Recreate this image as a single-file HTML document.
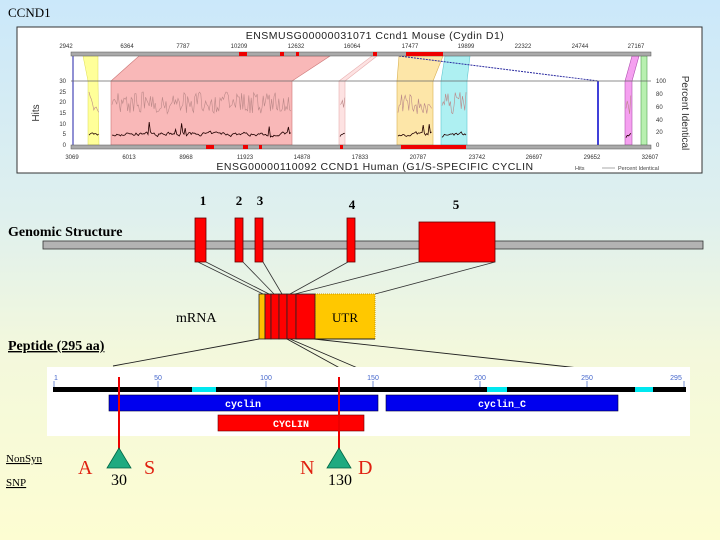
<!DOCTYPE html>
<html><head><meta charset="utf-8"><style>
html,body{margin:0;padding:0}
body{width:720px;height:540px;overflow:hidden;background:linear-gradient(#cbe8fa 0%,#dff0ee 40%,#f3f8dc 65%,#fdfdd2 100%)}
svg{display:block}
.s{font-family:"Liberation Serif",serif}
.a{font-family:"Liberation Sans",sans-serif}
.m{font-family:"Liberation Mono",monospace;font-weight:bold}
</style></head><body>
<svg width="720" height="540" viewBox="0 0 720 540" xmlns="http://www.w3.org/2000/svg">
<text x="8" y="17" class="s" font-size="13">CCND1</text>
<rect x="17" y="27" width="685" height="146" fill="#fff" stroke="#333" stroke-width="1"/>
<text x="375" y="39" class="a" font-size="10.5" text-anchor="middle" fill="#222" letter-spacing="0.5">ENSMUSG00000031071 Ccnd1 Mouse (Cydin D1)</text>
<g class="a" font-size="6" fill="#333" text-anchor="middle">
<text x="66" y="48">2942</text><text x="127" y="48">6364</text><text x="183" y="48">7787</text><text x="239" y="48">10209</text><text x="296" y="48">12632</text><text x="352" y="48">16064</text><text x="410" y="48">17477</text><text x="466" y="48">19899</text><text x="523" y="48">22322</text><text x="580" y="48">24744</text><text x="636" y="48">27167</text>
<text x="72" y="159">3069</text><text x="129" y="159">6013</text><text x="186" y="159">8968</text><text x="245" y="159">11923</text><text x="302" y="159">14878</text><text x="360" y="159">17833</text><text x="418" y="159">20787</text><text x="477" y="159">23742</text><text x="534" y="159">26697</text><text x="592" y="159">29652</text><text x="650" y="159">32607</text>
</g>
<text x="375" y="170" class="a" font-size="10.5" text-anchor="middle" fill="#222" letter-spacing="0.5">ENSG00000110092 CCND1 Human (G1/S-SPECIFIC CYCLIN</text>
<text x="575" y="170" class="a" font-size="5.5" fill="#444">Hits</text>
<line x1="602" y1="168" x2="615" y2="168" stroke="#aaa"/>
<text x="618" y="170" class="a" font-size="5.5" fill="#444">Percent Identical</text>
<polygon points="83,56 98,56 98,81 99,145 88,145 88,81" fill="#ffff99" stroke="#dddd55" stroke-width="0.5"/>
<polygon points="139,56 330,56 292,81 292,145 111,145 111,81" fill="#f9b8b8" stroke="#cc7777" stroke-width="0.6"/>
<polygon points="372,56 377,56 345,81 345,145 339,145 339,81" fill="#fde2e2" stroke="#e8b0b0" stroke-width="0.6"/>
<polygon points="399,56 443,56 433,81 433,145 397,145 397,81" fill="#fde6a8" stroke="#d8b050" stroke-width="0.6"/>
<polygon points="445,56 470,56 467,81 467,145 441,145 441,81" fill="#aef0f2" stroke="#60c8d0" stroke-width="0.6"/>
<polygon points="632,56 639,56 632,81 632,145 625,145 625,81" fill="#f5a0f0" stroke="#b050b0" stroke-width="0.6"/>
<polygon points="641,56 647,56 647,145 641,145" fill="#b8f0b0" stroke="#50a050" stroke-width="0.6"/>
<line x1="73" y1="56" x2="73" y2="145" stroke="#2222aa" stroke-width="1"/>
<polyline points="399,56 598,81 598,145" fill="none" stroke="#2a2aa0" stroke-width="1" stroke-dasharray="2,1"/>
<line x1="598" y1="81" x2="598" y2="145" stroke="#0000cc" stroke-width="1.5"/>
<line x1="71" y1="81" x2="651" y2="81" stroke="#666" stroke-width="0.8"/>
<path id="pid" fill="none" stroke="#b88" stroke-width="0.6"/>
<path id="hits" fill="none" stroke="#200" stroke-width="0.8"/>
<rect x="71" y="52" width="580" height="4" fill="#aaa" stroke="#555" stroke-width="0.5"/>
<rect x="71" y="145" width="580" height="4" fill="#aaa" stroke="#555" stroke-width="0.5"/>
<g fill="#e00">
<rect x="239" y="52" width="8" height="4"/><rect x="280" y="52" width="4" height="4"/><rect x="296" y="52" width="3" height="4"/><rect x="373" y="52" width="4" height="4"/><rect x="406" y="52" width="37" height="4"/>
<rect x="206" y="145" width="8" height="4"/><rect x="243" y="145" width="5" height="4"/><rect x="259" y="145" width="3" height="4"/><rect x="340" y="145" width="3" height="4"/><rect x="401" y="145" width="65" height="4"/>
</g>
<g class="a" font-size="6" fill="#333" text-anchor="end">
<text x="66" y="83">30</text><text x="66" y="94">25</text><text x="66" y="104">20</text><text x="66" y="115">15</text><text x="66" y="126">10</text><text x="66" y="136">5</text><text x="66" y="147">0</text>
</g>
<g class="a" font-size="6" fill="#333">
<text x="656" y="83">100</text><text x="656" y="96">80</text><text x="656" y="109">60</text><text x="656" y="122">40</text><text x="656" y="134">20</text><text x="656" y="147">0</text>
</g>
<text transform="translate(39,113) rotate(-90)" class="a" font-size="10" text-anchor="middle" fill="#333">Hits</text>
<text transform="translate(682,113) rotate(90)" class="a" font-size="10" text-anchor="middle" fill="#333">Percent Identical</text>

<text x="8" y="236" class="s" font-size="14" font-weight="bold">Genomic Structure</text>
<rect x="43" y="241" width="660" height="8" fill="#b3b3b3" stroke="#333" stroke-width="0.8"/>
<g fill="#f00" stroke="#600" stroke-width="0.8">
<rect x="195" y="218" width="11" height="44"/><rect x="235" y="218" width="8" height="44"/><rect x="255" y="218" width="8" height="44"/><rect x="347" y="218" width="8" height="44"/><rect x="419" y="222" width="76" height="40"/>
</g>
<g class="s" font-size="13" font-weight="bold" text-anchor="middle">
<text x="203" y="205">1</text><text x="239" y="205">2</text><text x="260" y="205">3</text><text x="352" y="209">4</text><text x="456" y="209">5</text>
</g>
<g stroke="#333" stroke-width="0.8">
<line x1="198" y1="262" x2="263" y2="294"/><line x1="206" y1="262" x2="269" y2="294"/>
<line x1="243" y1="262" x2="274" y2="294"/><line x1="263" y1="262" x2="282" y2="294"/>
<line x1="348" y1="262" x2="290" y2="294"/><line x1="419" y1="262" x2="295" y2="294"/><line x1="495" y1="262" x2="375" y2="294"/>
</g>
<text x="176" y="322" class="s" font-size="14">mRNA</text>
<rect x="315" y="294" width="60" height="45" fill="#ffc800" stroke="#c90" stroke-dasharray="1,1"/>
<rect x="259" y="294" width="6" height="45" fill="#ffc000" stroke="#222" stroke-width="0.8"/>
<g fill="#f00" stroke="#222" stroke-width="0.8">
<rect x="265" y="294" width="6" height="45"/><rect x="271" y="294" width="8" height="45"/><rect x="279" y="294" width="8" height="45"/><rect x="287" y="294" width="9" height="45"/><rect x="296" y="294" width="19" height="45"/>
</g>
<line x1="296" y1="339" x2="375" y2="339" stroke="#222"/>
<text x="345" y="322" class="s" font-size="13" text-anchor="middle">UTR</text>
<text x="8" y="350" class="s" font-size="14" font-weight="bold" text-decoration="underline">Peptide (295 aa)</text>
<g stroke="#222" stroke-width="0.9">
<line x1="259" y1="339" x2="113" y2="366"/><line x1="287" y1="339" x2="358" y2="378"/><line x1="290" y1="339" x2="381" y2="378"/><line x1="314" y1="339" x2="606" y2="371"/>
</g>
<rect x="47" y="367" width="643" height="69" fill="#fff"/>
<rect x="53" y="387" width="633" height="5" fill="#000"/>
<g fill="#00e8f0"><rect x="192" y="387" width="24" height="5"/><rect x="487" y="387" width="20" height="5"/><rect x="635" y="387" width="18" height="5"/></g>
<g stroke="#5577cc" stroke-width="0.8"><line x1="54" y1="381" x2="54" y2="387"/><line x1="158" y1="381" x2="158" y2="387"/><line x1="266" y1="381" x2="266" y2="387"/><line x1="373" y1="381" x2="373" y2="387"/><line x1="480" y1="381" x2="480" y2="387"/><line x1="587" y1="381" x2="587" y2="387"/><line x1="684" y1="381" x2="684" y2="387"/></g>
<g class="a" font-size="7" fill="#4466cc" text-anchor="middle">
<text x="56" y="380">1</text><text x="158" y="380">50</text><text x="266" y="380">100</text><text x="373" y="380">150</text><text x="480" y="380">200</text><text x="587" y="380">250</text><text x="676" y="380">295</text>
</g>
<rect x="109" y="395" width="269" height="16" fill="#0000ee" stroke="#003" stroke-width="0.6"/>
<rect x="386" y="395" width="232" height="16" fill="#0000ee" stroke="#003" stroke-width="0.6"/>
<rect x="218" y="415" width="146" height="16" fill="#f00" stroke="#600" stroke-width="0.6"/>
<g class="m" font-size="10" fill="#fff" text-anchor="middle">
<text x="243" y="407">cyclin</text><text x="502" y="407">cyclin_C</text><text x="291" y="427">CYCLIN</text>
</g>
<g stroke="#e00" stroke-width="2"><line x1="119" y1="377" x2="119" y2="449"/><line x1="339" y1="377" x2="339" y2="449"/></g>
<polygon points="119,448 107,468 131,468" fill="#1faa80" stroke="#064" stroke-width="0.8"/>
<polygon points="339,448 327,468 351,468" fill="#1faa80" stroke="#064" stroke-width="0.8"/>
<g class="s" font-size="20" fill="#e02010">
<text x="78" y="474">A</text><text x="144" y="474">S</text><text x="300" y="474">N</text><text x="358" y="474">D</text>
</g>
<g class="s" font-size="16" text-anchor="middle"><text x="119" y="485">30</text><text x="340" y="485">130</text></g>
<text x="6" y="462" class="s" font-size="11" text-decoration="underline">NonSyn</text>
<text x="6" y="486" class="s" font-size="11" text-decoration="underline">SNP</text>
</svg>
<script>
(function(){
var seed=7;function r(){seed=(seed*16807)%2147483647;return seed/2147483647;}
var segs=[[89,99],[112,291],[340,345],[398,432],[442,466],[626,631]];
var p="",h="";
segs.forEach(function(s){
 var first=true,hv=138;
 for(var x=s[0];x<=s[1];x+=1.2){
  var py=92+r()*22;
  hv=hv*0.6+(138-r()*8)*0.4; var hy=hv-(r()<0.04?r()*12:0);
  p+=(first?"M":"L")+x.toFixed(1)+","+py.toFixed(1)+" ";
  h+=(first?"M":"L")+x.toFixed(1)+","+hy.toFixed(1)+" ";
  first=false;
 }
});
document.getElementById("pid").setAttribute("d",p);
document.getElementById("hits").setAttribute("d",h);
})();
</script>
</body></html>
